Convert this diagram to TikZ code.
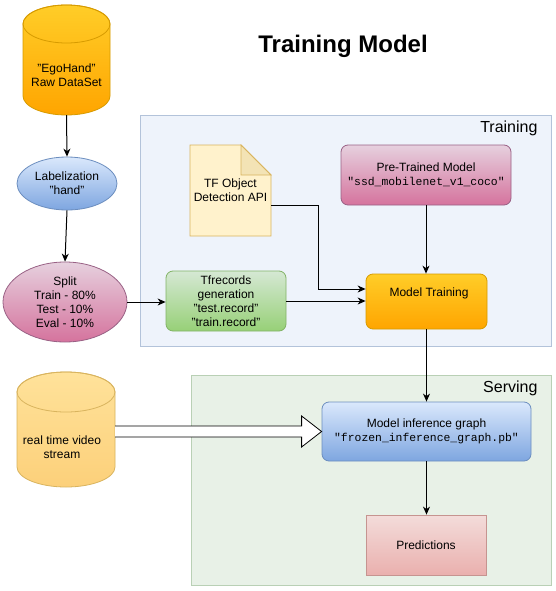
\documentclass[tikz,border=0pt]{standalone}
\usepackage{fontspec}
\setmainfont{Liberation Sans}
\newfontfamily\codefont{Liberation Mono}
\usetikzlibrary{shapes.geometric,arrows.meta,calc}

% palette
\definecolor{orT}{HTML}{FFCD28}
\definecolor{orB}{HTML}{FFA500}
\definecolor{orD}{HTML}{D79B00}
\definecolor{ylT}{HTML}{FFE29A}
\definecolor{ylB}{HTML}{FCD07A}
\definecolor{ylD}{HTML}{D9B45E}
\definecolor{noteF}{HTML}{FFF2CC}
\definecolor{noteFold}{HTML}{F3E3B5}
\definecolor{blT}{HTML}{DAE8FC}
\definecolor{blB}{HTML}{7EA6E0}
\definecolor{blD}{HTML}{6C8EBF}
\definecolor{pkT}{HTML}{E6D0DE}
\definecolor{pkB}{HTML}{D5739D}
\definecolor{pkD}{HTML}{996185}
\definecolor{gnT}{HTML}{D5E8D4}
\definecolor{gnB}{HTML}{97D077}
\definecolor{gnD}{HTML}{82B366}
\definecolor{rdT}{HTML}{F3DCDA}
\definecolor{rdB}{HTML}{EAB0AE}
\definecolor{rdD}{HTML}{C69490}
\definecolor{trF}{HTML}{EEF3FB}
\definecolor{trD}{HTML}{B3C3DA}
\definecolor{svF}{HTML}{E8F1E7}
\definecolor{svD}{HTML}{B9D0B5}

\begin{document}
\begin{tikzpicture}[x=1pt,y=-1pt,
  font=\fontsize{12}{14}\selectfont,
  conn/.style={line width=1pt,-{Stealth[length=8pt,width=7pt,inset=2.5pt]}},
  group/.style={line width=0.8pt,inner sep=0pt},
  box/.style={line width=0.8pt,rounded corners=7pt,align=center,inner sep=0pt},
  sqbox/.style={line width=0.8pt,align=center,inner sep=0pt},
  oval/.style={ellipse,line width=0.8pt,align=center,inner sep=0pt},
  ghost/.style={inner sep=0pt,align=center},
  orangefill/.style={top color=orT,bottom color=orB,draw=orD},
  bluefill/.style={top color=blT,bottom color=blB,draw=blD},
  pinkfill/.style={top color=pkT,bottom color=pkB,draw=pkD},
  greenfill/.style={top color=gnT,bottom color=gnB,draw=gnD},
  redfill/.style={top color=rdT,bottom color=rdB,draw=rdD},
]
\useasboundingbox[fill=white] (0,0) rectangle (556,591);

% title
\node[anchor=base,font=\bfseries\fontsize{24}{28}\selectfont] (title) at (343,53) {Training Model};

% group frames
\node[group,fill=trF,draw=trD,minimum width=411pt,minimum height=231pt] (training) at (345.5,230.5) {};
\node[anchor=base east,font=\fontsize{16}{18}\selectfont] (traininglbl) at (541,132) {Training};
\node[group,fill=svF,draw=svD,minimum width=360pt,minimum height=210pt] (serving) at (371,480) {};
\node[anchor=base east,font=\fontsize{16}{18}\selectfont] (servinglbl) at (541,392) {Serving};

% raw dataset cylinder
\shade[top color=orT,bottom color=orB,draw=orD,line width=0.8pt]
  (23,24) -- (23,96) arc[start angle=180,end angle=0,x radius=43.5,y radius=19]
  -- (110,24) arc[start angle=0,end angle=-180,x radius=43.5,y radius=19] -- cycle;
\draw[orD,line width=0.8pt] (66.5,24) ellipse[x radius=43.5,y radius=19];
\node[ghost,minimum width=87pt,minimum height=110pt] (ego) at (66.5,60) {};
\node[ghost] (egotext) at (66.5,75) {"EgoHand"\\Raw DataSet};

% video stream cylinder
\shade[top color=ylT,bottom color=ylB,draw=ylD,line width=0.8pt]
  (17,392) -- (17,467) arc[start angle=180,end angle=0,x radius=49,y radius=20]
  -- (115,392) arc[start angle=0,end angle=-180,x radius=49,y radius=20] -- cycle;
\draw[ylD,line width=0.8pt] (66,392) ellipse[x radius=49,y radius=20];
\node[ghost,minimum width=98pt,minimum height=115pt] (vid) at (66,431.5) {};
\node[ghost] (vidtext) at (62,447) {real time video\\stream};

% ellipses
\node[oval,bluefill,minimum width=100pt,minimum height=53pt] (lab) at (67,183.5) {Labelization\\"hand"};
\node[oval,pinkfill,minimum width=124pt,minimum height=80pt] (split) at (65,302) {Split\\Train - 80\%\\Test - 10\%\\Eval - 10\%};

% training boxes
\node[box,greenfill,minimum width=120pt,minimum height=60pt] (tf) at (226,301) {Tfrecords\\generation\\"test.record"\\"train.record"};
\node[box,pinkfill,minimum width=170pt,minimum height=60pt] (pre) at (426,175) {Pre-Trained Model\\{\codefont\fontsize{11.4}{14}\selectfont "ssd\_mobilenet\_v1\_coco"}};
\node[box,orangefill,minimum width=121pt,minimum height=55pt] (mt) at (426.5,301.5) {};
\node[ghost] (mttext) at (429,293) {Model Training};

% note shape
\filldraw[fill=noteF,draw=ylD,line width=0.8pt] (190,145) -- (241,145) -- (271,175) -- (271,236) -- (190,236) -- cycle;
\filldraw[fill=noteFold,draw=ylD,line width=0.8pt] (241,145) -- (241,175) -- (271,175) -- cycle;
\node[ghost,minimum width=81pt,minimum height=91pt] (api) at (230.5,190.5) {TF Object\\Detection API};

% serving boxes
\node[box,bluefill,minimum width=209pt,minimum height=59pt] (inf) at (426.5,431.5) {Model inference graph\\{\codefont\fontsize{11.4}{14}\selectfont "frozen\_inference\_graph.pb"}};
\node[sqbox,redfill,minimum width=120pt,minimum height=60pt] (pred) at (426,545) {Predictions};

% connectors
\coordinate (bend) at (318,289);
\draw[conn] (ego.south) -- (lab.north);
\draw[conn] (lab.south) -- (split.north);
\draw[conn] (split.east) -- (split.east -| tf.west);
\draw[conn] (tf.east) -- (tf.east -| mt.west);
\draw[conn] (api.east |- pre.south) -| (bend) -- (bend -| mt.west);
\draw[conn] (pre.south) -- (pre.south |- mt.north);
\draw[conn] (mt.south) -- (mt.south |- inf.north);
\draw[conn] (inf.south) -- (inf.south |- pred.north);

% hollow stream arrow
\draw[fill=white,line width=0.8pt]
  ($(vid.east)+(0,-5.5)$) -- ($(inf.west)+(-20,-5.5)$) -- ($(inf.west)+(-20,-15.5)$)
  -- (inf.west) -- ($(inf.west)+(-20,15.5)$) -- ($(inf.west)+(-20,5.5)$) -- ($(vid.east)+(0,5.5)$);
\end{tikzpicture}
\end{document}
